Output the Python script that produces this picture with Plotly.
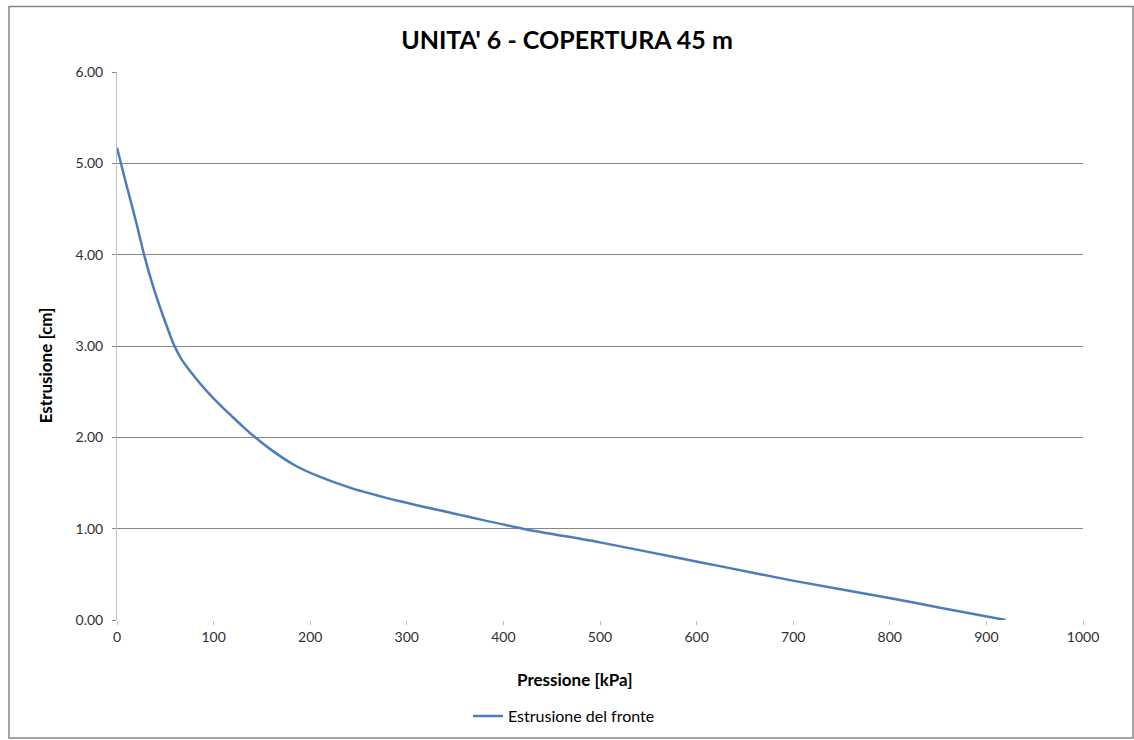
import plotly.graph_objects as go

# Data
pressione_kpa = [0, 10, 20, 28, 38, 48, 59, 67, 76, 86, 96, 110, 120, 130,
                 143, 160, 183, 207, 241, 293, 345, 420, 500, 583, 624, 698,
                 798, 852, 920]
estrusione_cm = [5.17, 4.755, 4.35, 4.0, 3.63, 3.32, 3.01, 2.85, 2.72, 2.59,
                 2.47, 2.32, 2.22, 2.12, 2.0, 1.86, 1.70, 1.58, 1.45, 1.30,
                 1.175, 1.0, 0.85, 0.675, 0.59, 0.434, 0.244, 0.135, 0.0]

x_ticks = [0, 100, 200, 300, 400, 500, 600, 700, 800, 900, 1000]
y_ticks = [0, 1, 2, 3, 4, 5, 6]
y_ticklabels = ["0.00", "1.00", "2.00", "3.00", "4.00", "5.00", "6.00"]

FONT = "Lato"

# layout geometry (the capture compresses height by ~740/745)
W, H = 1134, 745
ML, MR, MT, MB = 117, 51, 72, 121
PW, PH = W - ML - MR, H - MT - MB
SY = H / 740.0


def px(xp):
    return (xp - ML) / PW


def py(yp):
    return (MT + PH - yp * SY) / PH


fig = go.Figure()
fig.add_trace(go.Scatter(
    x=pressione_kpa, y=estrusione_cm, mode="lines",
    name="Estrusione del fronte",
    line=dict(color="#4A7EBB", width=2.5, shape="spline", smoothing=0.6),
))

fig.update_layout(
    width=W, height=H,
    margin=dict(l=ML, r=MR, t=MT, b=MB),
    paper_bgcolor="white", plot_bgcolor="white",
    font=dict(family=FONT, color="#000000"),
    title=dict(text="<b>UNITA' 6 - COPERTURA 45 m</b>", x=0.5, xanchor="center",
               y=1 - 40 * SY / H, yanchor="middle",
               font=dict(family=FONT, size=25, color="#000000")),
    showlegend=True,
    legend=dict(orientation="h", x=px(564), xanchor="center", y=py(716),
                yanchor="middle", font=dict(family=FONT, size=16, color="#000000"),
                bgcolor="rgba(0,0,0,0)", itemwidth=30),
    xaxis=dict(range=[0, 1000], tickvals=x_ticks, showgrid=False, zeroline=False,
               showline=True, linecolor="white", linewidth=1,
               ticks="outside", ticklen=4, tickcolor="#BFBFBF",
               tickfont=dict(family=FONT, size=14, color="#303030")),
    yaxis=dict(range=[0, 6], tickvals=y_ticks, ticktext=y_ticklabels,
               showgrid=True, gridcolor="#868686", gridwidth=1, zeroline=False,
               showline=True, linecolor="#BFBFBF", linewidth=1,
               ticks="outside", ticklen=4, tickcolor="#868686",
               ticklabelstandoff=6,
               tickfont=dict(family=FONT, size=14, color="#303030")),
)

fig.add_annotation(text="<b>Pressione [kPa]</b>", xref="paper", yref="paper",
                   x=px(575), y=py(679), showarrow=False,
                   xanchor="center", yanchor="middle",
                   font=dict(family=FONT, size=17, color="#000000"))
fig.add_annotation(text="<b>Estrusione [cm]</b>", xref="paper", yref="paper",
                   x=px(45), y=py(365), showarrow=False,
                   textangle=-90, xanchor="center", yanchor="middle",
                   font=dict(family=FONT, size=17, color="#000000"))

# outer chart border
fig.add_shape(type="rect", xref="paper", yref="paper",
              x0=px(9), x1=px(1133), y0=py(738), y1=py(6),
              line=dict(color="#868686", width=1.5), fillcolor="rgba(0,0,0,0)")

fig.write_html("out.html",
               config={"displayModeBar": False},
               post_script="document.body.style.margin='0';"
                           "document.body.style.overflow='hidden';")
